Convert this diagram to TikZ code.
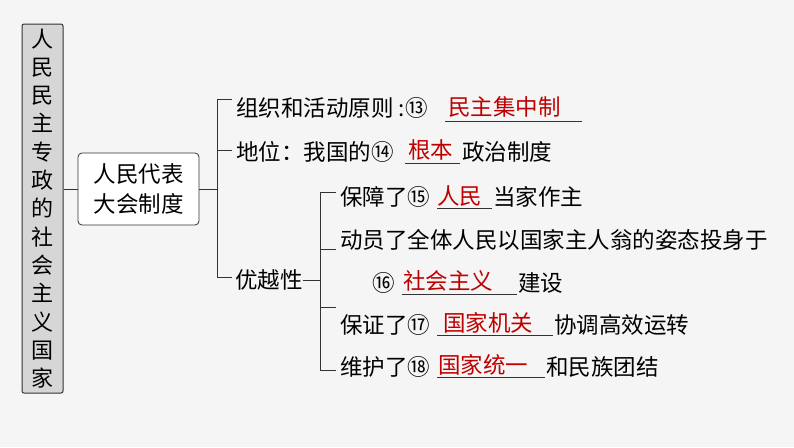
\documentclass[tikz,border=0pt]{standalone}
\usepackage{fontspec}
\setmainfont{Noto Sans CJK SC}
\begin{document}
\begin{tikzpicture}[x=1pt,y=-1pt,
  txt/.style={anchor=west,inner sep=0pt,font=\fontsize{22.5}{26}\selectfont},
  ans/.style={anchor=west,inner sep=0pt,font=\fontsize{22.5}{26}\selectfont,text=red!75!black},
  ln/.style={line width=0.8pt,draw=black!80},
  ul/.style={line width=0.8pt,draw=black!80}]
\useasboundingbox[fill=white!96!black] (0,0) rectangle (794,447);
\node[draw=black!80,line width=1pt,fill=black!16,rounded corners=2pt,minimum width=41pt,minimum height=369pt,inner sep=0pt] (L) at (42.5,208.5) {};
\node[inner sep=0pt,font=\fontsize{22}{28.3}\selectfont,align=center,text width=24pt] (Lt) at (42.5,208.5) {人\\民\\民\\主\\专\\政\\的\\社\\会\\主\\义\\国\\家};
\node[draw=black!80,line width=0.8pt,fill=white,rounded corners=4pt,minimum width=121pt,minimum height=72pt,align=center,inner sep=0pt,font=\fontsize{22.5}{30}\selectfont] (M) at (138.5,189) {人民代表\\大会制度};
\draw[ln] (L.east |- M.west) -- (M.west);
\coordinate (b1) at (217,189);
\draw[ln] (M.east) -- (b1);
\draw[ln] (232,99) -- (217,99) -- (217,277) -- (232,277);
\draw[ln] (217,150) -- (232,150);
\node[txt] (t1) at (236,108) {组织和活动原则 :⑬};
\node[ans] (a1) at (448,107) {民主集中制};
\draw[ul] (445,121) -- (582,121);
\node[txt] (t2) at (236,152) {地位：我国的⑭};
\node[ans] (a2) at (408,150) {根本};
\draw[ul] (405,163) -- (460,163);
\node[txt] (t2b) at (462,152) {政治制度};
\node[txt] (t3) at (235,280) {优越性};
\draw[ln] (t3.east) -- (320,280);
\draw[ln] (336,192) -- (320,192) -- (320,370) -- (336,370);
\draw[ln] (320,249) -- (336,249);
\draw[ln] (320,307) -- (336,307);
\node[txt] (s1) at (340,197) {保障了⑮};
\node[ans] (r1) at (437,196) {人民};
\draw[ul] (437,208) -- (492,208);
\node[txt] (s1b) at (493,197) {当家作主};
\node[txt] (s2) at (340,240) {动员了全体人民以国家主人翁的姿态投身于};
\node[txt] (s3) at (372,283) {⑯};
\node[ans] (r3) at (403,281) {社会主义};
\draw[ul] (402,294) -- (517,294);
\node[txt] (s3b) at (518,283) {建设};
\node[txt] (s4) at (340,325) {保证了⑰};
\node[ans] (r4) at (443,323) {国家机关};
\draw[ul] (437,335) -- (553,335);
\node[txt] (s4b) at (554,325) {协调高效运转};
\node[txt] (s5) at (340,367) {维护了⑱};
\node[ans] (r5) at (438,365) {国家统一};
\draw[ul] (437,377) -- (545,377);
\node[txt] (s5b) at (546,367) {和民族团结};
\end{tikzpicture}
\end{document}
